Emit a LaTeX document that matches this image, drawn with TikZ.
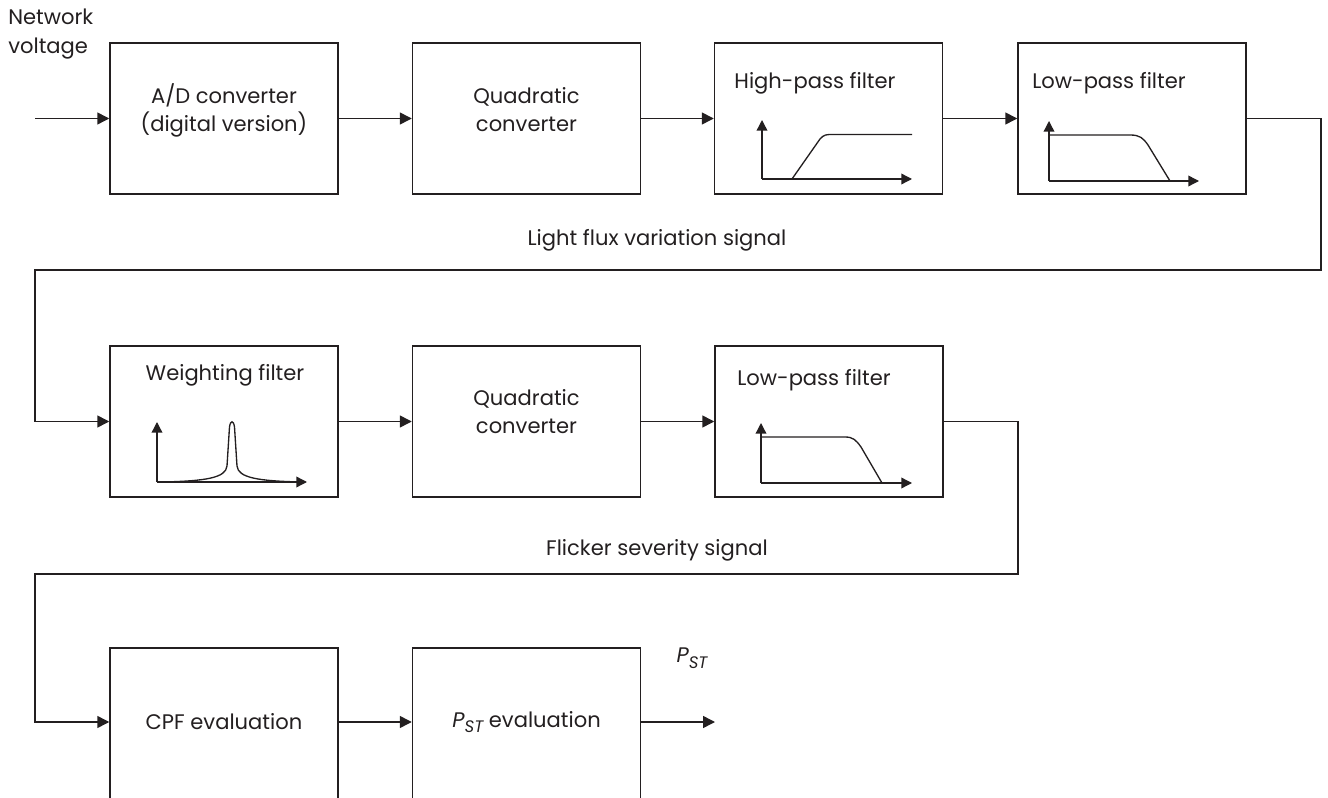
\documentclass[tikz,border=0pt]{standalone}
\usepackage{fontspec}
\setmainfont{Poppins}
\usetikzlibrary{arrows.meta}
\definecolor{ink}{HTML}{231F20}
\newcommand\PSTsym{\textit{P}\raisebox{-0.5ex}{\fontsize{12.5}{14}\selectfont\itshape ST}}
\begin{document}
\begin{tikzpicture}[x=0.75pt,y=-0.75pt,
  every node/.style={font=\fontsize{15.8}{21}\selectfont, inner sep=0pt, text=ink},
  blk/.style={draw=ink, line width=1.1pt, minimum width=171pt, minimum height=113.25pt, align=center},
  lbl/.style={align=center},
  wire/.style={draw=ink, line width=1.1pt},
  arr/.style={wire, -{Triangle[length=9pt,width=9pt]}},
  ax/.style={draw=ink, line width=1pt, -{Triangle[length=8pt,width=8pt]}},
  crv/.style={draw=ink, line width=1pt}]
\clip (0,0) rectangle (1328,798);
% Row 1
\node[anchor=north west, align=left, font=\fontsize{15.8}{21.5}\selectfont] (nv) at (8,9) {Network\\voltage};
\node[blk] (ad) at (224,118.5) {};
\node[lbl] (adt) at (224,110) {A/D converter\\(digital version)};
\node[blk] (q1) at (526.5,118.5) {};
\node[lbl] (q1t) at (526.5,110) {Quadratic\\converter};
\node[blk] (hp) at (828.5,118.5) {};
\node[blk] (lp1) at (1132,118.5) {};
\node (hpt) at (815,83) {High-pass filter};
\node (lp1t) at (1109,83) {Low-pass filter};
\coordinate (in) at (35,118.5);
\draw[arr] (in) -- (ad);
\draw[arr] (ad) -- (q1);
\draw[arr] (q1) -- (hp);
\draw[arr] (hp) -- (lp1);
% high-pass graph
\draw[ax] (762,179) -- (762,120);
\draw[ax] (762,179) -- (912,179);
\draw[crv] (792,179) -- (820,139) .. controls (824,134.5) and (826,134.5) .. (833,134.5) -- (912,134.5);
% low-pass graph 1
\draw[ax] (1049,181) -- (1049,121);
\draw[ax] (1049,181) -- (1199,181);
\draw[crv] (1049,135) -- (1130,135) .. controls (1140,135) and (1143,138) .. (1148,145) -- (1170,181);
% Row 2
\node (lfs) at (657,240) {Light flux variation signal};
\node[blk] (wf) at (224,421.5) {};
\node[blk] (q2) at (526.5,421.5) {};
\node[lbl] (q2t) at (526.5,412) {Quadratic\\converter};
\node[blk] (lp2) at (829,421.5) {};
\node (wft) at (225,375) {Weighting filter};
\node (lp2t) at (814,380) {Low-pass filter};
\coordinate (k1) at (1321,270);
\coordinate (k2) at (35,270);
\draw[arr] (lp1.east) -| (k1) -- (k2) |- (wf.west);
\draw[arr] (wf) -- (q2);
\draw[arr] (q2) -- (lp2);
% weighting graph
\draw[ax] (157,482) -- (157,422);
\draw[ax] (157,482) -- (307,482);
\draw[crv] (163,482) .. controls (205,481) and (226,478) .. (227,466) -- (229.5,427) .. controls (230.5,420) and (233.5,420) .. (234.5,427) -- (237,466) .. controls (238,478) and (259,481) .. (301,482);
% low-pass graph 2
\draw[ax] (761,483) -- (761,423);
\draw[ax] (761,483) -- (912,483);
\draw[crv] (761,437) -- (845,437) .. controls (853,437) and (856,440) .. (861,447) -- (882,483);
% Row 3
\node (fss) at (657,550) {Flicker severity signal};
\node[blk, minimum height=120pt] (cpf) at (224,728) {};
\node (cpft) at (224,722) {CPF evaluation};
\node[blk, minimum height=120pt] (pe) at (526.5,728) {};
\node (pet) at (526.5,722) {\PSTsym{} evaluation};
\node (pstl) at (692,658) {\PSTsym};
\coordinate (k3) at (1018,574);
\coordinate (k4) at (35,574);
\coordinate (out) at (715,722);
\draw[arr] (lp2.east) -| (k3) -- (k4) |- (cpft -| cpf.west);
\draw[arr] (cpft -| cpf.east) -- (pet -| pe.west);
\draw[arr] (pet -| pe.east) -- (out);
\end{tikzpicture}
\end{document}
